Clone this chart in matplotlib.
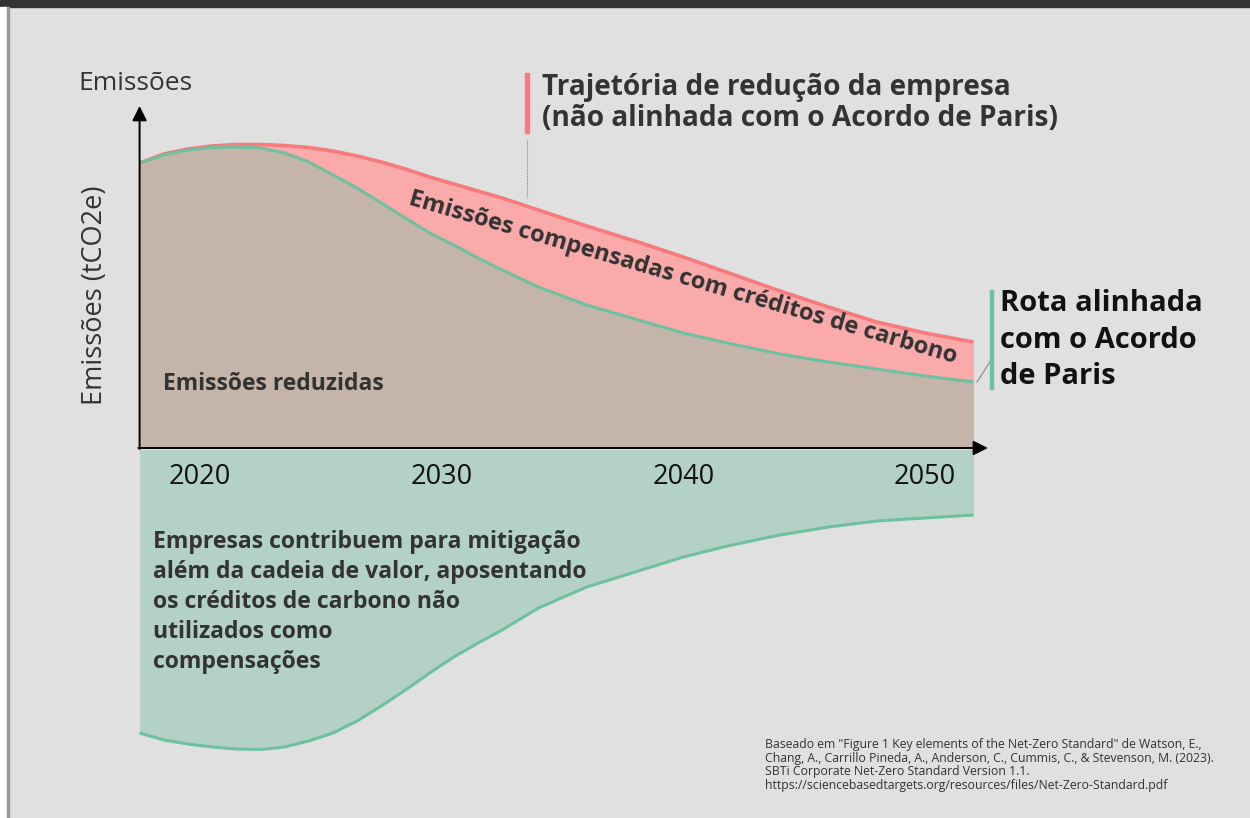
import matplotlib
matplotlib.use("Agg")
import matplotlib.pyplot as plt
from matplotlib.patches import Rectangle

# ---- data ----
years = [2017.5, 2018.5, 2019.5, 2020.5, 2021.5, 2022.5, 2023.5, 2024.5, 2025.5,
         2026.5, 2027.5, 2028.5, 2029.5, 2030.5, 2031.5, 2032.5, 2034, 2036, 2038,
         2040, 2042, 2044, 2046, 2048, 2050, 2052]
company_path = [28.5, 29.4, 29.9, 30.2, 30.35, 30.35, 30.25, 30.05, 29.7, 29.2,
                28.6, 27.9, 27.1, 26.4, 25.7, 25.0, 23.8, 22.2, 20.7, 19.1,
                17.4, 15.7, 14.1, 12.6, 11.5, 10.6]
paris_path = [28.5, 29.3, 29.8, 30.05, 30.1, 30.0, 29.5, 28.6, 27.3, 26.0,
              24.5, 23.0, 21.5, 20.3, 19.0, 17.8, 16.1, 14.3, 12.9, 11.5,
              10.4, 9.4, 8.6, 7.9, 7.2, 6.6]
bvcm = [-28.5, -29.2, -29.6, -29.9, -30.1, -30.15, -29.9, -29.3, -28.5, -27.3,
        -25.8, -24.2, -22.5, -20.9, -19.5, -18.2, -16.0, -13.9, -12.4, -10.9,
        -9.7, -8.7, -7.9, -7.3, -7.0, -6.7]
tick_years = [2020, 2030, 2040, 2050]

BG = "#e0e0e0"
BROWN = "#c4b4aa"
PINK = "#faaaaa"
RED = "#f87a7a"
GREEN = "#6ec1a0"
GREEN_FILL = "#b4d1c5"
DARK = "#333333"

plt.rcParams["font.family"] = ["Open Sans", "DejaVu Sans"]

W, H = 1250, 818
fig = plt.figure(figsize=(W / 100, H / 100), dpi=100)
fig.patch.set_facecolor(BG)


def fx(px):
    return px / W


def fy(py):
    return 1 - py / H


# frame bits
fig.patches.append(Rectangle((0, fy(7)), 1, 7 / H, transform=fig.transFigure,
                             color="#333333", zorder=0))
fig.patches.append(Rectangle((0, 0), fx(7), fy(7), transform=fig.transFigure,
                             color="white", zorder=0))
fig.patches.append(Rectangle((fx(7), 0), fx(1.5), fy(7), transform=fig.transFigure,
                             color="#9a9a9a", zorder=0))

# axes spanning the whole figure; years on x, emissions on y
ax = fig.add_axes([0, 0, 1, 1])
ax.set_facecolor("none")
px_per_year = 24.17
ax.set_xlim(2020 - 200 / px_per_year, 2020 + (W - 200) / px_per_year)
ax.set_ylim((448 - H) / 10, 448 / 10)
ax.axis("off")

ax.fill_between(years, 0, paris_path, color=BROWN, lw=0, zorder=1)
ax.fill_between(years, paris_path, company_path, color=PINK, lw=0, zorder=1)
ax.fill_between(years, -0.15, bvcm, color=GREEN_FILL, lw=0, zorder=1)
ax.plot(years, company_path, color=RED, lw=2.6, solid_capstyle="butt", zorder=3)
ax.plot(years, paris_path, color=GREEN, lw=2.2, solid_capstyle="butt", zorder=3)
ax.plot(years, bvcm, color=GREEN, lw=2.2, solid_capstyle="butt", zorder=3)

# axes arrows
x0 = years[0]
ax.annotate("", xy=(x0, 34.2), xytext=(x0, -0.1),
            arrowprops=dict(arrowstyle="-|>", color="black", lw=1.4,
                            mutation_scale=22, shrinkA=0, shrinkB=0), zorder=4)
ax.annotate("", xy=(2052.6, 0), xytext=(x0 - 0.05, 0),
            arrowprops=dict(arrowstyle="-|>", color="black", lw=1.4,
                            mutation_scale=22, shrinkA=0, shrinkB=0), zorder=4)

for yr in tick_years:
    ax.text(yr, -2.85, str(yr), ha="center", va="center", fontsize=19.5,
            color="#111111", zorder=5)

fig.text(fx(135), fy(84), "Emissões", ha="center", va="center", fontsize=19, color=DARK)
fig.text(fx(95), fy(295), "Emissões (tCO2e)", ha="center", va="center", fontsize=19.5,
         color=DARK, rotation=90)

fig.text(fx(163), fy(384), "Emissões reduzidas", ha="left", va="center", fontsize=16.5,
         fontweight="bold", color=DARK)
fig.text(fx(683), fy(278), "Emissões compensadas com créditos de carbono", ha="center",
         va="center", fontsize=17, fontweight="bold", color=DARK, rotation=-16.2)

# company trajectory label
fig.patches.append(Rectangle((fx(524.5), fy(133)), fx(4), 60 / H, transform=fig.transFigure,
                             color=RED, zorder=2))
fig.lines.append(plt.Line2D([fx(527), fx(527)], [fy(140), fy(198)], transform=fig.transFigure,
                            color="#888888", lw=0.8, ls=(0, (1, 1))))
fig.text(fx(542), fy(103), "Trajetória de redução da empresa\n(não alinhada com o Acordo de Paris)",
         ha="left", va="center", fontsize=20.2, fontweight="bold", color=DARK,
         linespacing=1.1)

# paris label
fig.patches.append(Rectangle((fx(989.5), fy(389)), fx(3.5), 99 / H, transform=fig.transFigure,
                             color=GREEN, zorder=2))
fig.lines.append(plt.Line2D([fx(977), fx(993)], [fy(382), fy(357)], transform=fig.transFigure,
                            color="#888888", lw=0.8))
fig.text(fx(1000), fy(340), "Rota alinhada\ncom o Acordo\nde Paris", ha="left", va="center",
         fontsize=21, fontweight="bold", color="#111111", linespacing=1.36)

fig.text(fx(153), fy(602), "Empresas contribuem para mitigação\nalém da cadeia de valor, aposentando\n"
         "os créditos de carbono não\nutilizados como\ncompensações",
         ha="left", va="center", fontsize=16.6, fontweight="bold", color=DARK,
         linespacing=1.34, zorder=5)

fig.text(fx(765), fy(765), "Baseado em \"Figure 1 Key elements of the Net-Zero Standard\" de Watson, E.,\n"
         "Chang, A., Carrillo Pineda, A., Anderson, C., Cummis, C., & Stevenson, M. (2023).\n"
         "SBTi Corporate Net-Zero Standard Version 1.1.\n"
         "https://sciencebasedtargets.org/resources/files/Net-Zero-Standard.pdf",
         ha="left", va="center", fontsize=8.8, color=DARK, linespacing=1.05)

fig.savefig("out.png", dpi=100, facecolor=BG)
